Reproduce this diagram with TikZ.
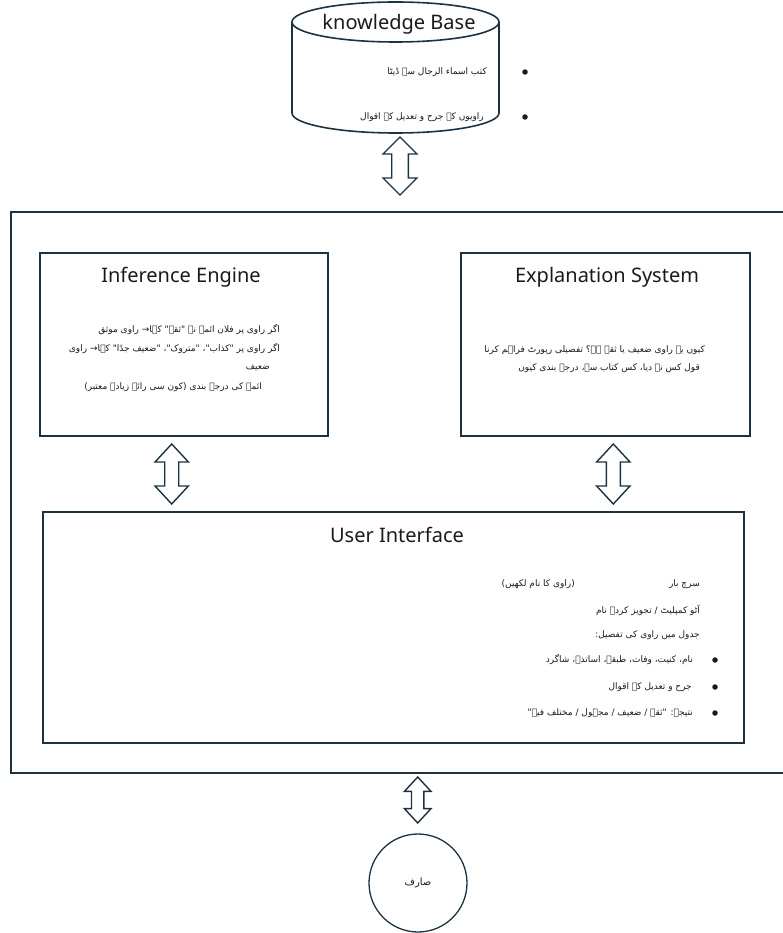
\documentclass[tikz,border=0pt]{standalone}
\usepackage{fontspec}
\setmainfont{Noto Sans}
\newfontfamily\urdu[Script=Arabic]{DejaVu Sans}
\TeXXeTstate=1
\definecolor{navy}{HTML}{1C3242}
\definecolor{ink}{HTML}{1A1A1A}
\newcommand\dblarr[7]{% name, x, ytop, ybot, headhalf, shafthalf, headlen
  \draw[arrowline] (#2,#3) -- (#2+#5,#3+#7) -- (#2+#6,#3+#7) -- (#2+#6,#4-#7) -- (#2+#5,#4-#7)
    -- (#2,#4) -- (#2-#5,#4-#7) -- (#2-#6,#4-#7) -- (#2-#6,#3+#7) -- (#2-#5,#3+#7) -- cycle;}
\tikzset{
  box/.style={draw=navy, line width=1.8pt, inner sep=0, anchor=north west},
  title/.style={font=\fontsize{20}{24}\selectfont, text=ink},
  ur/.style={font=\urdu\fontsize{9}{11}\selectfont, text=ink, anchor=east, inner sep=0},
  dot/.style={circle, fill=ink, inner sep=0, minimum size=5.5pt},
  arrowline/.style={draw=navy, line width=1.4pt, fill=white, line join=miter},
}
\begin{document}
\begin{tikzpicture}[x=1pt,y=-1pt]
\useasboundingbox (0,0) rectangle (783,933);
% knowledge base cylinder
\node[inner sep=0, minimum width=207pt, minimum height=131pt] (kb) at (395.5,67.5) {};
\draw[draw=navy, line width=1.6pt, fill=white] (292,22) -- (292,113) arc[start angle=180, end angle=0, x radius=103.5, y radius=20] -- (499,22);
\draw[draw=navy, line width=1.6pt] (395.5,22) ellipse[x radius=103.5, y radius=20];
\node[title] (kbt) at (399,24) {knowledge Base};
\node[ur] (kb1) at (487,72) {\beginR کتب اسماء الرجال سے ڈیٹا\endR};
\node[ur] (kb2) at (484,117) {\beginR راویوں کے جرح و تعدیل کے اقوال\endR};
\node[dot] (kbd1) at (525,72) {};
\node[dot] (kbd2) at (525,117) {};
% outer frame
\node[box, minimum width=790pt, minimum height=561pt] (frame) at (10,211) {};
% inference engine
\node[box, minimum width=288pt, minimum height=183pt] (ie) at (39,252) {};
\node[title] (iet) at (181,277) {Inference Engine};
\node[ur] (ie1) at (280,330) {\beginR اگر راوی پر فلان ائمہ نے "ثقہ" کہا→ راوی موثق\endR};
\node[ur] (ie2) at (280,349) {\beginR اگر راوی پر "کذاب"، "متروک"، "ضعیف جدًا" کہا→ راوی\endR};
\node[ur] (ie3) at (270,368) {\beginR ضعیف\endR};
\node[ur] (ie4) at (262,387) {\beginR ائمہ کی درجہ بندی (کون سی رائے زیادہ معتبر)\endR};
% explanation system
\node[box, minimum width=289pt, minimum height=183pt] (es) at (460,252) {};
\node[title] (est) at (607,277) {Explanation System};
\node[ur] (es1) at (705,350) {\beginR کیوں یہ راوی ضعیف یا ثقہ ہے؟ تفصیلی رپورٹ فراہم کرنا\endR};
\node[ur] (es2) at (700,368) {\beginR قول کس نے دیا، کس کتاب سے، درجہ بندی کیوں\endR};
% user interface
\node[box, minimum width=701pt, minimum height=231pt] (ui) at (42,511) {};
\node[title] (uit) at (397,535) {User Interface};
\node[ur] (ui1) at (700,584) {\beginR سرچ بار\endR};
\node[ur] (ui1b) at (575,584) {\beginR (راوی کا نام لکھیں)\endR};
\node[ur] (ui2) at (700,610) {\beginR آٹو کمپلیٹ / تجویز کردہ نام\endR};
\node[ur] (ui3) at (700,635) {\beginR جدول میں راوی کی تفصیل:\endR};
\node[ur] (ui4) at (693,660) {\beginR نام، کنیت، وفات، طبقہ، اساتذہ، شاگرد\endR};
\node[ur] (ui5) at (692,687) {\beginR جرح و تعدیل کے اقوال\endR};
\node[ur] (ui6) at (693,713) {\beginR نتیجہ: "ثقہ / ضعیف / مجہول / مختلف فیہ"\endR};
\node[dot] (uid1) at (715,660) {};
\node[dot] (uid2) at (715,687) {};
\node[dot] (uid3) at (715,713) {};
% user
\node[circle, draw=navy, line width=1.3pt, minimum size=98pt, inner sep=0, font=\urdu\fontsize{10}{12}\selectfont, text=ink] (user) at (418,883) {\beginR صارف\endR};
% block arrows
\dblarr{a1}{400}{137}{195}{17}{8.3}{17}
\dblarr{a2}{171.7}{444}{504}{16.7}{7}{18}
\dblarr{a3}{613.3}{444}{504}{16.7}{7}{18}
\dblarr{a4}{417.7}{777}{823}{13.3}{6.2}{14.4}
\end{tikzpicture}
\end{document}
